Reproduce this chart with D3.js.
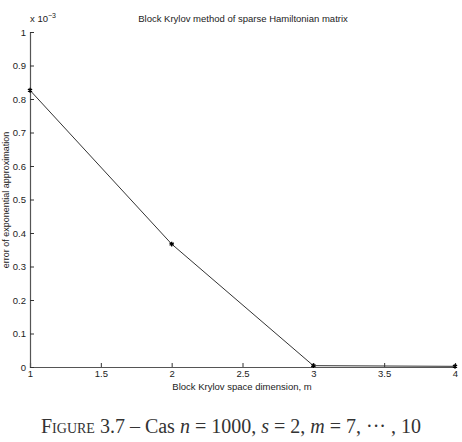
<!DOCTYPE html>
<html>
<head>
<meta charset="utf-8">
<script src="https://cdn.jsdelivr.net/npm/d3@7"></script>
<style>
body { margin: 0; background: #fff; }
svg text { font-family: "Liberation Sans", Arial, sans-serif; }
</style>
</head>
<body>
<svg id="chart" width="462" height="442"></svg>
<script>
// values (y in units of 1e-3)
const dims = [1, 2, 3, 4];
const errors = [0.826, 0.367, 0.004, 0.002];
const xTicks = [1, 1.5, 2, 2.5, 3, 3.5, 4];
const yTicks = [0, 0.1, 0.2, 0.3, 0.4, 0.5, 0.6, 0.7, 0.8, 0.9, 1];

let padL = 30, padR = 455, padT = 32, padB = 367;
let svg = d3.select("#chart");

let x = d3.scaleLinear().domain([1, 4]).range([padL, padR]);
let y = d3.scaleLinear().domain([0, 1]).range([padB, padT]);

// axes with inward ticks, like matlab
let xa = svg.append("g").attr("transform", "translate(0," + padB + ")")
    .call(d3.axisBottom(x).tickValues(xTicks).tickSize(-4).tickPadding(5).tickFormat(d3.format("")));
let ya = svg.append("g").attr("transform", "translate(" + padL + ",0)")
    .call(d3.axisLeft(y).tickValues(yTicks).tickSize(-4).tickPadding(4).tickFormat(d3.format("")));

[xa, ya].forEach(function(a) {
    a.select(".domain").attr("stroke", "#555").attr("stroke-width", 1.2);
    a.selectAll(".tick line").attr("stroke", "#333");
    a.selectAll(".tick text").attr("font-size", 9.5).attr("fill", "#222")
        .attr("font-family", "Liberation Sans, Arial, sans-serif");
});
xa.selectAll(".tick text").attr("dy", "0.55em");

// exponent label
svg.append("text").attr("x", 30).attr("y", 22).attr("font-size", 9.5).attr("fill", "#222")
    .text("x 10").append("tspan").attr("dy", -4).attr("font-size", 7).text("\u22123");

svg.append("text").attr("x", 243).attr("y", 22).attr("text-anchor", "middle")
    .attr("font-size", 9.5).attr("fill", "#222").text("Block Krylov method of sparse Hamiltonian matrix");

svg.append("text").attr("x", 242).attr("y", 390).attr("text-anchor", "middle")
    .attr("font-size", 9.5).attr("fill", "#222").text("Block Krylov space dimension, m");

svg.append("text").attr("transform", "translate(9," + 200 + ")rotate(-90)").attr("text-anchor", "middle")
    .attr("font-size", 9).attr("fill", "#222").text("error of exponential approximation");

// line
let data = dims.map((d, i) => [d, errors[i]]);
svg.append("path").datum(data)
    .attr("fill", "none").attr("stroke", "#333").attr("stroke-width", 1)
    .attr("d", d3.line().x(d => x(d[0])).y(d => y(d[1])));

// star markers
let sym = d3.symbol().type(d3.symbolAsterisk).size(16);
svg.selectAll(".pt").data(data).enter().append("path")
    .attr("transform", d => "translate(" + x(d[0]) + "," + y(d[1]) + ")")
    .attr("d", sym).attr("stroke", "#000").attr("stroke-width", 1.3).attr("fill", "none");

// caption
let cap = svg.append("text").attr("x", 231).attr("y", 433).attr("text-anchor", "middle")
    .attr("font-size", 20).attr("fill", "#333")
    .style("font-family", "'Liberation Serif', 'DejaVu Serif', serif");
cap.append("tspan").style("font-variant", "small-caps").text("Figure 3.7");
cap.append("tspan").text(" \u2013 Cas ");
cap.append("tspan").style("font-style", "italic").text("n");
cap.append("tspan").text(" = 1000, ");
cap.append("tspan").style("font-style", "italic").text("s");
cap.append("tspan").text(" = 2, ");
cap.append("tspan").style("font-style", "italic").text("m");
cap.append("tspan").text(" = 7, \u00b7\u00b7\u00b7 , 10");
</script>
</body>
</html>
